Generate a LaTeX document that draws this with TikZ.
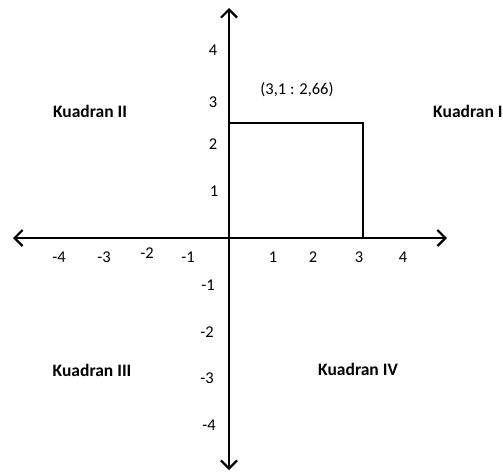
\documentclass[tikz,border=0pt]{standalone}
\usepackage{fontspec}
\setmainfont{Carlito}
\usetikzlibrary{arrows.meta}
\begin{document}
\begin{tikzpicture}[x=1pt,y=-1pt,
  axis/.style={line width=2.2pt,-{Straight Barb[length=8pt,width=16pt]}},
  frame/.style={line width=2pt},
  lbl/.style={inner sep=0pt,font=\fontsize{16.5}{19}\selectfont},
  quad/.style={inner sep=0pt,font=\fontsize{17.5}{20}\selectfont\bfseries}]
\useasboundingbox (0,0) rectangle (503,472);
\clip (0,0) rectangle (503,472);
\coordinate (O) at (229,238);
\coordinate (top) at (229,8);
\coordinate (bot) at (229,470);
\coordinate (left) at (13,238);
\coordinate (right) at (447,238);
\coordinate (c1) at (229,123);
\coordinate (c2) at (363,123);
\coordinate (c3) at (363,238);
\draw[axis] (O) -- (top);
\draw[axis] (O) -- (bot);
\draw[axis] (O) -- (left);
\draw[axis] (O) -- (right);
\draw[frame] (c1) -- (c2) -- (c3);
% x labels
\node[lbl] (xm4) at (59,257) {-4};
\node[lbl] (xm3) at (104,257) {-3};
\node[lbl] (xm2) at (147,253) {-2};
\node[lbl] (xm1) at (188,257) {-1};
\node[lbl] (x1) at (273,257) {1};
\node[lbl] (x2) at (313,257) {2};
\node[lbl] (x3) at (359,257) {3};
\node[lbl] (x4) at (403,257) {4};
% y labels
\node[lbl] (y4) at (213,50) {4};
\node[lbl] (y3) at (213,102) {3};
\node[lbl] (y2) at (213,144) {2};
\node[lbl] (y1) at (214,191) {1};
\node[lbl] (ym1) at (208,285) {-1};
\node[lbl] (ym2) at (207,332) {-2};
\node[lbl] (ym3) at (207,378) {-3};
\node[lbl] (ym4) at (209,425) {-4};
\node[lbl] (pt) at (297,90) {(3,1 : 2,66)};
\node[quad] (q2) at (90,111) {Kuadran II};
\node[quad,anchor=west] (q1) at (433,111) {Kuadran I};
\node[quad] (q3) at (92,370) {Kuadran III};
\node[quad] (q4) at (358,369) {Kuadran IV};
\end{tikzpicture}
\end{document}
